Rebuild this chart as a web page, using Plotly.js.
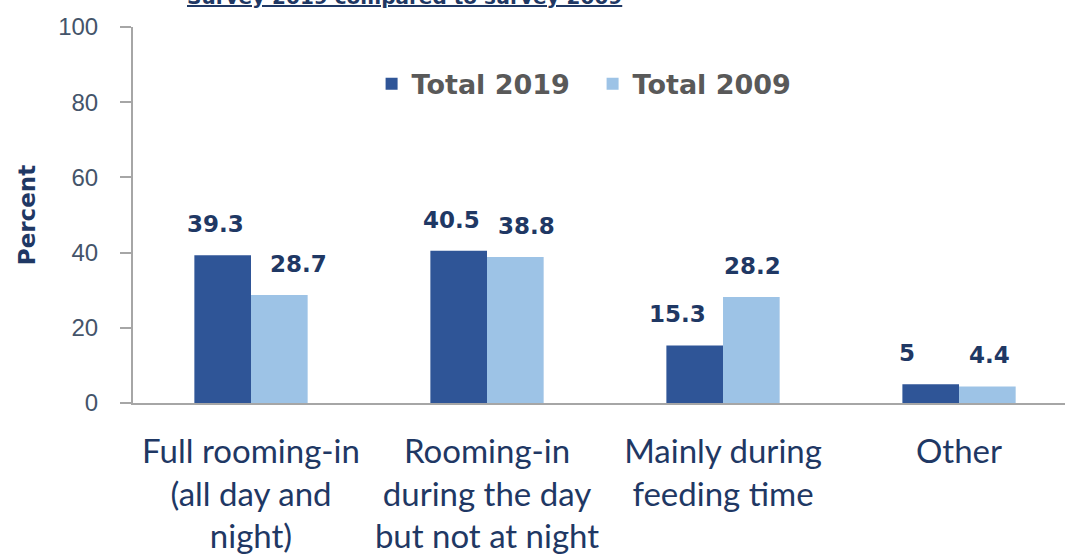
<!DOCTYPE html>
<html>
<head>
<meta charset="utf-8">
<script src="https://cdn.plot.ly/plotly-3.0.1.min.js"></script>
<style>html,body{margin:0;padding:0;background:#fff;}#chart{width:1065px;height:559px;}</style>
</head>
<body>
<div id="chart"></div>
<script>
const categories = ["Full rooming-in<br>(all day and<br>night)", "Rooming-in<br>during the day<br>but not at night", "Mainly during<br>feeding time", "Other"];
const total2019 = [39.3, 40.5, 15.3, 5];
const total2009 = [28.7, 38.8, 28.2, 4.4];
const seriesNames = ["Total 2019", "Total 2009"];
const yTicks = [0, 20, 40, 60, 80, 100];
const chartTitle = "Survey 2019 compared to survey 2009";

// label styling: small horizontal nudges (px) of value labels, as in the original
const labelNudge2019 = [-7, -7, -17, -24];
const labelNudge2009 = [19, 11, 1, 2];

const navy = "#1F3864";
const bargap = 0.52;
const series = [
  {name: seriesNames[0], values: total2019, color: "#2F5597", nudge: labelNudge2019},
  {name: seriesNames[1], values: total2009, color: "#9DC3E6", nudge: labelNudge2009}
];

const data = series.map(s => ({
  type: "bar",
  name: s.name,
  x: categories,
  y: s.values,
  marker: {color: s.color},
  hoverinfo: "skip"
}));

const barW = (1 - bargap) / series.length;
const valueLabels = [];
series.forEach((s, t) => {
  const off = -(1 - bargap) / 2 + barW * (t + 0.5);
  s.values.forEach((v, i) => {
    valueLabels.push({
      text: "<b>" + v + "</b>",
      xref: "x", yref: "y",
      x: i + off, y: v,
      xanchor: "center", yanchor: "bottom", yshift: 16, xshift: s.nudge[i],
      showarrow: false,
      font: {family: "DejaVu Sans", size: 23, color: navy}
    });
  });
});

const layout = {
  width: 1065,
  height: 559,
  margin: {l: 133, r: 0, t: 27, b: 156, pad: 0},
  paper_bgcolor: "#ffffff",
  plot_bgcolor: "#ffffff",
  barmode: "group",
  bargap: bargap,
  bargroupgap: 0,
  showlegend: true,
  legend: {
    orientation: "h",
    x: 0.256, xanchor: "left",
    y: 0.848, yanchor: "middle",
    font: {family: "DejaVu Sans", size: 27, color: "#595959", weight: "bold"},
    bgcolor: "rgba(0,0,0,0)",
    traceorder: "normal",
    entrywidth: 176,
    entrywidthmode: "pixels"
  },
  xaxis: {
    type: "category",
    range: [-0.5, 3.449],
    showline: true,
    linecolor: "#A6A6A6",
    linewidth: 2,
    ticks: "",
    showgrid: false,
    zeroline: false,
    tickfont: {family: "Lato", size: 33, color: navy},
    ticklabelstandoff: 18,
    fixedrange: true
  },
  yaxis: {
    range: [0, 100],
    tickvals: yTicks,
    ticktext: yTicks.map(String),
    showline: true,
    linecolor: "#A6A6A6",
    linewidth: 2,
    ticks: "outside",
    ticklen: 11,
    tickwidth: 2,
    tickcolor: "#A6A6A6",
    showgrid: false,
    zeroline: false,
    tickfont: {family: "Liberation Sans", size: 24, color: "#44546A"},
    ticklabelstandoff: 17,
    title: {text: "<b>Percent</b>", font: {family: "DejaVu Sans", size: 23, color: navy}, standoff: 16},
    automargin: false,
    fixedrange: true
  },
  annotations: valueLabels.concat([{
    text: "<b><u>" + chartTitle + "</u></b>",
    xref: "paper", yref: "paper",
    x: (404 - 133) / 932, xanchor: "center",
    y: 1, yanchor: "middle", yshift: 30,
    showarrow: false,
    font: {family: "DejaVu Sans", size: 20, color: navy}
  }])
};

Plotly.newPlot("chart", data, layout, {displayModeBar: false, staticPlot: true});
</script>
</body>
</html>
